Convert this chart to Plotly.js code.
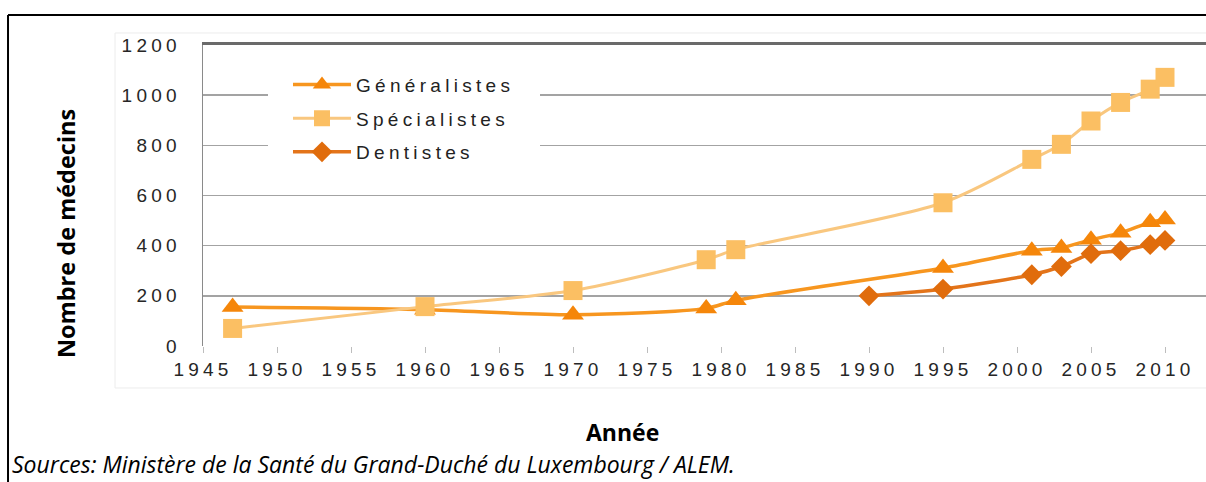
<!DOCTYPE html>
<html>
<head>
<meta charset="utf-8">
<script src="https://cdn.plot.ly/plotly-3.0.1.min.js"></script>
<style>
  html, body { margin: 0; padding: 0; background: #fff; }
  #chart { width: 1206px; height: 482px; }
  .xtick text, .ytick text { letter-spacing: 4.2px; }
  .legendtext { letter-spacing: 4.3px; }
</style>
</head>
<body>
<div id="chart"></div>
<script>
// ---- data ----
const genYears  = [1947, 1960, 1970, 1979, 1981, 1995, 2001, 2003, 2005, 2007, 2009, 2010];
const genValues = [155, 145, 125, 150, 182, 311, 380, 391, 424, 451, 493, 504];

const specYears  = [1947, 1960, 1970, 1979, 1981, 1995, 2001, 2003, 2005, 2007, 2009, 2010];
const specValues = [70, 157, 221, 344, 384, 571, 744, 804, 897, 971, 1024, 1071];

const dentYears  = [1990, 1995, 2001, 2003, 2005, 2007, 2009, 2010];
const dentValues = [200, 227, 284, 317, 368, 380, 404, 421];

const seriesNames = ['Généralistes', 'Spécialistes', 'Dentistes'];
const yTitle = 'Nombre de médecins';
const xTitle = 'Année';
const sourceText = 'Sources: Ministère de la Santé du Grand-Duché du Luxembourg / ALEM.';

const tickFont = { family: 'Liberation Sans, Arial, sans-serif', size: 19, color: '#262626' };

const traces = [
  {
    x: genYears, y: genValues, name: seriesNames[0], type: 'scatter', mode: 'lines+markers',
    legendgroup: 'g', line: { color: '#F7961F', width: 3.5, shape: 'spline', smoothing: 0.8 },
    marker: { symbol: 'triangle-up', size: 19, color: '#F5860A' }
  },
  {
    x: specYears, y: specValues, name: seriesNames[1], type: 'scatter', mode: 'lines+markers',
    legendgroup: 's', line: { color: '#F9C77F', width: 3, shape: 'spline', smoothing: 0.8 },
    marker: { symbol: 'square', size: 19, color: '#FBBF63' }
  },
  {
    x: dentYears, y: dentValues, name: seriesNames[2], type: 'scatter', mode: 'lines+markers',
    legendgroup: 'd', line: { color: '#E3741A', width: 3.5, shape: 'spline', smoothing: 0.8 },
    marker: { symbol: 'diamond', size: 16, color: '#E06C0C' }
  },
  {
    // invisible trace to carry the top axis line
    x: [1945], y: [0], xaxis: 'x2', yaxis: 'y', showlegend: false, hoverinfo: 'skip',
    mode: 'markers', marker: { opacity: 0 }
  }
];

const layout = {
  width: 1206, height: 482,
  margin: { l: 203, r: 0, t: 45, b: 136 },
  paper_bgcolor: '#ffffff', plot_bgcolor: 'rgba(0,0,0,0)',
  showlegend: true,
  xaxis: {
    range: [1945, 2012.77], tick0: 1945, dtick: 5,
    showgrid: false, zeroline: false, showline: false,
    ticks: 'outside', ticklen: 6, tickcolor: '#bdbdbd', tickwidth: 1,
    tickfont: tickFont, ticklabelstandoff: 0
  },
  xaxis2: {
    overlaying: 'x', side: 'top', range: [1945, 2012.77],
    showline: true, linecolor: '#6a6a6a', linewidth: 3,
    showgrid: false, zeroline: false, showticklabels: false, ticks: ''
  },
  yaxis: {
    range: [0, 1200], dtick: 200, tick0: 0,
    showgrid: true, gridcolor: '#a3a3a3', gridwidth: 1.5,
    zeroline: true, zerolinecolor: '#ffffff', zerolinewidth: 1,
    showline: true, linecolor: '#8a8a8a', linewidth: 1.5,
    ticks: '', tickfont: tickFont, ticklabelstandoff: 17
  },
  legend: {
    x: 0.0648, xanchor: 'left', y: 0.998, yanchor: 'top',
    bgcolor: '#ffffff', bordercolor: '#ffffff', borderwidth: 20,
    font: { family: 'Liberation Sans, Arial, sans-serif', size: 19, color: '#222' },
    itemwidth: 58, tracegroupgap: 6, itemsizing: 'trace'
  },
  shapes: [
    // embedded picture frame
    { type: 'rect', xref: 'paper', yref: 'paper', x0: -0.0877, x1: 1.02, y0: -0.1395, y1: 1.0399,
      line: { color: '#ececec', width: 1 }, fillcolor: 'rgba(0,0,0,0)', layer: 'below' },
    // document table border
    { type: 'line', xref: 'paper', yref: 'paper', x0: -0.1944, x1: -0.1944, y0: -0.46, y1: 1.0997,
      line: { color: '#000', width: 2 }, layer: 'below' },
    { type: 'line', xref: 'paper', yref: 'paper', x0: -0.1944, x1: 1.02, y0: 1.0997, y1: 1.0997,
      line: { color: '#000', width: 2 }, layer: 'below' }
  ],
  annotations: [
    { text: '<b>' + yTitle + '</b>', xref: 'paper', yref: 'paper', x: -0.1366, y: 0.3754,
      xanchor: 'center', yanchor: 'middle', textangle: -90, showarrow: false,
      font: { family: 'Open Sans, sans-serif', size: 23.5, color: '#000' } },
    { text: '<b>' + xTitle + '</b>', xref: 'paper', yref: 'paper', x: 0.4187, y: -0.2857,
      xanchor: 'center', yanchor: 'middle', showarrow: false,
      font: { family: 'Open Sans, sans-serif', size: 23, color: '#000' } },
    { text: '<i>' + sourceText + '</i>', xref: 'paper', yref: 'paper', x: -0.1924, y: -0.392,
      xanchor: 'left', yanchor: 'middle', showarrow: false,
      font: { family: 'Open Sans, sans-serif', size: 23, color: '#000' } }
  ]
};

Plotly.newPlot('chart', traces, layout, { staticPlot: true, displayModeBar: false });
</script>
</body>
</html>
